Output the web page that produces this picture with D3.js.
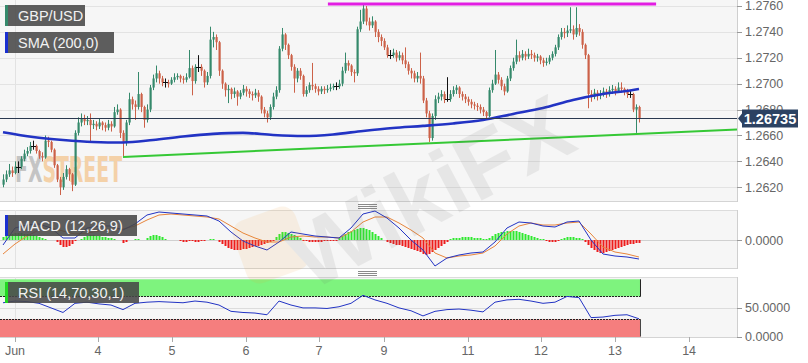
<!DOCTYPE html>
<html>
<head>
<meta charset="utf-8">
<script src="https://cdn.jsdelivr.net/npm/d3@7"></script>
<style>
body { margin: 0; background: #fff; }
svg { display: block; font-family: "Liberation Sans", Arial, sans-serif; }
</style>
</head>
<body>
<svg id="chart" width="808" height="363"></svg>
<script>
// GBP/USD hourly candles, 2 - 13 Jun. prices are pips above base
const base = 1.26
const firstOpen = 22
const closes = [26,30,33,31,36,36,42,46,48,52, 52,48,44,43,56,55,49,37,26,20,
  28,34,30,22,62,70,73,71,72,68, 69,67,70,68,66,69,67,78,80,62,
  55,70,88,84,82,92,82,72,80,97, 104,108,104,101,101,100,103,105,106,104,
  103,105,112,102,113,113,110,101,106,134, 136,132,110,100,95,96,92,94,90,93,
  96,94,92,91,93,90,80,77,74,82, 90,95,127,138,130,122,113,104,110,106,
  92,95,99,98,96,94,96,95,96,97, 98,98,100,110,116,114,109,108,142,148,
  158,148,145,148,140,136,133,128,122,122, 124,120,122,118,115,110,108,104,106,104,
  87,77,58,75,88,90,92,88,88,92, 95,97,92,90,88,86,84,83,82,80,
  78,75,95,100,107,103,98,94,104,112, 117,122,120,123,121,123,122,120,121,118,
  116,117,120,123,128,136,140,139,141,142, 138,143,140,130,122,92,90,93,91,92,
  94,92,95,96,94,97,96,94,92,92, 80,82,73.5]
const highs = [30,33,38,36,40,40,44,49,51,55, 56,53,49,47,60,59,56,50,38,28,
  31,37,35,31,64,74,77,76,75,77, 72,71,73,71,70,72,71,82,84,81,
  64,72,93,90,87,109,93,83,84,99, 107,114,110,106,104,103,105,108,108,107,
  106,108,126,114,115,122,115,111,109,144, 140,138,133,111,101,99,97,97,95,95,
  99,98,96,94,96,95,91,82,79,84, 93,98,129,143,139,131,123,115,112,112,
  107,98,101,116,100,98,98,98,99,100, 100,101,103,113,124,118,115,111,144,157,
  161,160,151,152,149,142,138,135,130,126, 127,126,125,124,128,117,112,110,109,124,
  106,89,79,77,91,93,95,94,105,95, 98,99,98,94,92,90,88,86,85,84,
  82,79,97,103,126,109,105,100,106,114, 120,134,125,126,125,127,126,124,123,122,
  120,120,122,125,130,138,143,143,145,159, 145,159,146,142,131,123,95,96,95,95,
  97,96,98,99,98,101,101,97,96,95, 93,84,83]
const lows = [20,24,28,28,30,31,34,40,44,46, 49,46,42,40,42,51,47,35,24,14,
  18,26,25,17,21,60,67,68,68,55, 65,64,65,64,63,64,63,66,76,58,
  43,52,68,80,72,80,78,66,70,78, 95,101,100,98,97,97,99,101,103,101,
  100,101,104,91,100,109,106,97,99,104, 128,126,106,96,90,85,88,89,83,88,
  91,90,89,87,89,86,77,74,70,72, 80,88,93,125,126,119,110,93,101,103,
  90,90,93,95,93,91,92,92,93,94, 95,95,96,98,108,110,106,101,106,140,
  146,145,141,143,136,132,129,126,120,119, 120,117,118,115,112,107,104,101,101,100,
  85,74,55,56,72,85,87,85,86,86, 90,92,89,87,85,83,81,80,79,77,
  75,73,74,93,99,100,95,91,93,102, 110,115,117,118,118,119,119,117,117,115,
  113,114,115,118,121,126,134,135,136,139, 134,136,137,127,119,81,86,88,87,88,
  90,89,90,92,91,93,93,91,89,89, 78,62,70]

// SMA(200) read every 10 candles
const smaIdx = [0,10,20,30,40,50,60,70,80,90,100,110,120,130,140,150,160,170,180,190,200,210,212]
const smaPips = [62.5,58.8,56.5,55,54.6,56.5,59.2,61.2,62,60.4,59.6,60.8,63.5,65.8,67.4,69.3,72,76.6,81.2,87.4,92,95.1,95.9]

// drawn lines
const trendIdx = [40, 244.67], trendPips = [43.4, 64.6]
const resistIdx = [108.3, 217.7], resistPips = [161.5, 161.5]
const lastPrice = 1.26735

// MACD (12,26,9), in units of 1e-5. lines every 4 candles, histogram per candle
const macdUnit = 1e-5
const lineIdx = d3.range(0, 213, 4)
const macdLine = [-20,48,60,64,48,8,8,48,56,56,40,64,100,112,108,104,100,96,76,32,-4,-24,-40,-8,32,24,16,12,8,48,
  104,116,88,48,0,-40,-104,-72,-60,-52,-48,-8,48,72,68,56,52,72,76,0,-56,-64,-68,-76]
const signalLine = [-56,-16,16,40,48,36,24,28,36,44,44,56,80,100,104,100,96,92,84,56,28,8,-8,-8,12,16,12,12,8,32,
  72,92,92,68,40,8,-52,-72,-64,-60,-52,-24,24,56,68,60,60,68,72,24,-28,-48,-56,-68]
const macdHist = [12,16,20,24,28,28,28,24,24,20,20,16,12,8,4, 0,0,0,
  -8,-20,-28,-28,-24,-16,-4, 0, 4,12,16,20,20,16,16,12,12,8,8,4, 0,0, -12,-8, 0,0,4,4,0,0,
  8,16,20,20,16,12,4, 0,0,0,0, -4,-8,-8,-4,-4,-8,-8,-4,-4, 0, 4,4,0,
  -8,-16,-24,-32,-36,-40,-40,-40,-36,-36,-32,-28,-24,-24,-20,-16,-12,-8,-4,
  12,24,32,32,28,24,20,12,8, -4,-4,-8,-8,-8,-8,-8,-4,-4,-4,-4,-4,
  8,16,24,32,36,40,44,48,48,44,40,32,24,16,8, 0,
  -8,-12,-16,-20,-20,-24,-28,-32,-36,-40,-44,-48,-56,-60,-56,-48,-40,-32,-24,-16,-8,
  4,8,8,8,12,12,12,12,8,8,8,4,4,
  8,16,24,28,32,32,36,36,36,36,32,28,24,20,16,12,8,4,4,
  -4,-8,-8,-8,-4, 4,8,12,12,12,8,8,4,
  -8,-20,-32,-40,-48,-52,-52,-48,-44,-40,-36,-32,-28,-24,-20,-16,-16,-12,-12]

// RSI (14,70,30,1) every 4 candles
const rsiLine = [59,62,61,58,50,42,58,60,57,55,47,58,60,61,60,59,62,60,55,44,42,41,38,62,55,50,50,49,52,58,
  72,64,58,50,45,36,44,47,48,46,43,60,64,65,62,58,60,70,68,33,34,37,38,31]

// x axis
const dayTicks = [4, 31.7, 56.3, 81, 105.3, 127, 155, 179.3, 204, 228.7]
const dayLabels = ['Jun','4','5','6','7','9','11','12','13','14']
const priceTicks = [1.2620,1.2640,1.2660,1.2680,1.2700,1.2720,1.2740,1.2760]

const green = '#35896b', red = '#cc6148', blue = '#2233c4'
const right = 737
const svg = d3.select('#chart')

const x = d3.scaleLinear().domain([-1, 244.67]).range([0, right])
const y = d3.scaleLinear().domain([1.26094, 1.27646]).range([201, 0])
const yMacd = d3.scaleLinear().domain([-112, 120]).range([268, 210])
const yRsi = d3.scaleLinear().domain([0, 100]).range([336.5, 279.3])
const px = p => y(base + p / 1e4)

// panels
const panels = [[0, 201], [210, 268], [277, 337]]
panels.forEach(([t, b], n) => {
  svg.append('clipPath').attr('id', 'clip' + n)
    .append('rect').attr('x', 0).attr('y', t).attr('width', right).attr('height', b - t)
  svg.append('rect').attr('x', 0).attr('y', t).attr('width', right).attr('height', b - t)
    .attr('fill', '#f6f6f6')
  svg.append('line').attr('x1', 0).attr('x2', right).attr('y1', b + 0.5).attr('y2', b + 0.5)
    .attr('stroke', '#d4d4d4')
  if (n) svg.append('line').attr('x1', 0).attr('x2', right).attr('y1', t + 0.5).attr('y2', t + 0.5)
    .attr('stroke', '#dcdcdc')
  svg.append('line').attr('x1', right + 0.5).attr('x2', right + 0.5).attr('y1', t).attr('y2', b + 1)
    .attr('stroke', '#cfcfcf')
  // month line
  svg.append('line').attr('x1', Math.round(x(dayTicks[0])) + 0.5).attr('x2', Math.round(x(dayTicks[0])) + 0.5)
    .attr('y1', t).attr('y2', b).attr('stroke', '#e2e2e2')
})

// grips between panels
;[204, 271].forEach(g => {
  for (let j = 0; j < 3; j++) {
    svg.append('line').attr('x1', 358).attr('x2', 377)
      .attr('y1', g + j * 2 + 0.5).attr('y2', g + j * 2 + 0.5).attr('stroke', '#8a8a8a')
  }
})

// price grid + axis
const main = svg.append('g').attr('clip-path', 'url(#clip0)')
main.selectAll('.grid').data(priceTicks).enter().append('line')
  .attr('x1', 0).attr('x2', right)
  .attr('y1', d => Math.round(y(d)) + 0.5).attr('y2', d => Math.round(y(d)) + 0.5)
  .attr('stroke', '#e3e3e3')
svg.selectAll('.ptick').data(priceTicks).enter().append('line')
  .attr('x1', right).attr('x2', right + 5)
  .attr('y1', d => Math.round(y(d)) + 0.5).attr('y2', d => Math.round(y(d)) + 0.5)
  .attr('stroke', '#999')
// 1.2680 ends up mostly under the price tag, as in the original
svg.selectAll('.plabel').data(priceTicks).enter().append('text')
  .attr('x', right + 8).attr('y', d => y(d) + 4.5)
  .attr('font-size', 12.5).attr('fill', '#666')
  .text(d => d3.format('.4f')(d))

// FXSTREET watermark
const wm = main.append('text').attr('x', 15).attr('y', 182)
  .attr('font-family', '"DejaVu Sans Condensed", "DejaVu Sans", sans-serif')
  .attr('font-weight', 'bold').attr('font-size', 36)
  .attr('textLength', 107).attr('lengthAdjust', 'spacingAndGlyphs')
wm.append('tspan').attr('fill', '#c4c4c4').text('FX')
wm.append('tspan').attr('fill', '#f4d1a8').text('STREET')

// candles
const candles = closes.map((c, i) => ({
  i: i,
  open: i ? closes[i - 1] : firstOpen,
  close: c,
  high: highs[i],
  low: lows[i]
}))
const cg = main.append('g')
cg.selectAll('.wick').data(candles).enter().append('line')
  .attr('x1', d => Math.round(x(d.i)) + 0.5).attr('x2', d => Math.round(x(d.i)) + 0.5)
  .attr('y1', d => px(d.high)).attr('y2', d => px(d.low))
  .attr('stroke', d => d.close > d.open ? green : d.close < d.open ? red : '#111')
  .attr('stroke-width', 1)
cg.selectAll('.body').data(candles.filter(d => d.close !== d.open)).enter().append('rect')
  .attr('x', d => Math.round(x(d.i)) - 0.5).attr('width', 2.2)
  .attr('y', d => px(Math.max(d.open, d.close)))
  .attr('height', d => Math.max(1, Math.abs(px(d.open) - px(d.close))))
  .attr('fill', d => d.close > d.open ? green : red)
cg.selectAll('.doji').data(candles.filter(d => d.close === d.open)).enter().append('line')
  .attr('x1', d => Math.round(x(d.i)) - 2).attr('x2', d => Math.round(x(d.i)) + 3)
  .attr('y1', d => Math.round(px(d.close)) + 0.5).attr('y2', d => Math.round(px(d.close)) + 0.5)
  .attr('stroke', '#111')

// SMA
main.append('path')
  .datum(smaIdx.map((k, j) => [k, smaPips[j]]))
  .attr('fill', 'none').attr('stroke', blue).attr('stroke-width', 2.6)
  .attr('d', d3.line().x(d => x(d[0])).y(d => px(d[1])).curve(d3.curveMonotoneX))

// support trend line
main.append('line')
  .attr('x1', x(trendIdx[0])).attr('y1', px(trendPips[0]))
  .attr('x2', x(trendIdx[1])).attr('y2', px(trendPips[1]))
  .attr('stroke', '#35c835').attr('stroke-width', 2)

// last price line
main.append('line').attr('x1', 0).attr('x2', right)
  .attr('y1', Math.round(y(lastPrice)) + 0.5).attr('y2', Math.round(y(lastPrice)) + 0.5)
  .attr('stroke', '#2b3950')

// resistance line
main.append('line')
  .attr('x1', x(resistIdx[0])).attr('y1', px(resistPips[0]))
  .attr('x2', x(resistIdx[1])).attr('y2', px(resistPips[1]))
  .attr('stroke', '#e21ee2').attr('stroke-width', 3)

// last price tag
const ty = Math.round(y(lastPrice)) + 0.5
svg.append('path')
  .attr('d', `M${right + 1},${ty} L${right + 5},${ty - 5} V${ty - 9} H798 V${ty + 9} H${right + 5} V${ty + 5} Z`)
  .attr('fill', '#2c4262')
svg.append('text').attr('x', 770).attr('y', ty + 5).attr('text-anchor', 'middle')
  .attr('font-size', 14.5).attr('font-weight', 'bold').attr('fill', '#fff')
  .text(d3.format('.5f')(lastPrice))

// MACD panel
const mg = svg.append('g').attr('clip-path', 'url(#clip1)')
mg.append('line').attr('x1', 0).attr('x2', right)
  .attr('y1', Math.round(yMacd(0)) + 0.5).attr('y2', Math.round(yMacd(0)) + 0.5)
  .attr('stroke', '#d0d0d0')
mg.selectAll('.hist').data(macdHist).enter().append('rect')
  .attr('x', (d, i) => Math.round(x(i)) - 0.5).attr('width', 2)
  .attr('y', d => d > 0 ? yMacd(d) : yMacd(0))
  .attr('height', d => Math.abs(yMacd(d) - yMacd(0)))
  .attr('fill', d => d > 0 ? '#2fe82f' : '#ee1c1c')
const mline = d3.line().x((d, j) => x(lineIdx[j])).y(d => yMacd(d))
mg.append('path').datum(signalLine).attr('fill', 'none')
  .attr('stroke', '#e8853c').attr('stroke-width', 1).attr('d', mline)
mg.append('path').datum(macdLine).attr('fill', 'none')
  .attr('stroke', blue).attr('stroke-width', 1).attr('d', mline)
svg.append('line').attr('x1', right).attr('x2', right + 5)
  .attr('y1', Math.round(yMacd(0)) + 0.5).attr('y2', Math.round(yMacd(0)) + 0.5).attr('stroke', '#999')
svg.append('text').attr('x', right + 8).attr('y', yMacd(0) + 4.5)
  .attr('font-size', 12.5).attr('fill', '#666').text(d3.format('.4f')(0 * macdUnit))

// RSI panel
const rg = svg.append('g').attr('clip-path', 'url(#clip2)')
const lastX = x(closes.length - 1) + 1.5
rg.append('line').attr('x1', 0).attr('x2', right)
  .attr('y1', Math.round(yRsi(50)) + 0.5).attr('y2', Math.round(yRsi(50)) + 0.5).attr('stroke', '#dcdcdc')
rg.append('rect').attr('x', 0).attr('width', lastX)
  .attr('y', yRsi(100)).attr('height', yRsi(70) - yRsi(100)).attr('fill', '#7ef37e')
rg.append('rect').attr('x', 0).attr('width', lastX)
  .attr('y', yRsi(30)).attr('height', yRsi(0) - yRsi(30) + 1).attr('fill', '#f57e7e')
;[70, 30].forEach(v => {
  rg.append('line').attr('x1', 0).attr('x2', lastX)
    .attr('y1', Math.round(yRsi(v)) + 0.5).attr('y2', Math.round(yRsi(v)) + 0.5)
    .attr('stroke', '#222').attr('stroke-dasharray', '2,1')
})
rg.append('line').attr('x1', lastX).attr('x2', lastX).attr('y1', yRsi(100)).attr('y2', yRsi(70))
  .attr('stroke', '#222')
rg.append('line').attr('x1', lastX).attr('x2', lastX).attr('y1', yRsi(30)).attr('y2', yRsi(0))
  .attr('stroke', '#444')
rg.append('path').datum(rsiLine).attr('fill', 'none').attr('stroke', blue).attr('stroke-width', 1)
  .attr('d', d3.line().x((d, j) => x(lineIdx[j])).y(d => yRsi(d)))
;[50, 0].forEach(v => {
  svg.append('line').attr('x1', right).attr('x2', right + 5)
    .attr('y1', Math.round(yRsi(v)) + 0.5).attr('y2', Math.round(yRsi(v)) + 0.5).attr('stroke', '#999')
  svg.append('text').attr('x', right + 8).attr('y', yRsi(v) + 4.5)
    .attr('font-size', 12.5).attr('fill', '#666').text(d3.format('.4f')(v))
})

// x axis
svg.selectAll('.xtick').data(dayTicks).enter().append('line')
  .attr('x1', d => Math.round(x(d)) + 0.5).attr('x2', d => Math.round(x(d)) + 0.5)
  .attr('y1', 337).attr('y2', 342).attr('stroke', '#aaa')
svg.selectAll('.xlabel').data(dayTicks).enter().append('text')
  .attr('x', d => x(d)).attr('y', 355).attr('text-anchor', 'middle')
  .attr('font-size', 12.5).attr('fill', '#666')
  .text((d, i) => dayLabels[i])

// legend boxes
const legends = [
  { text: 'GBP/USD', y: 5, w: 80, color: green },
  { text: 'SMA (200,0)', y: 32, w: 109, color: '#1a2fd0' },
  { text: 'MACD (12,26,9)', y: 215, w: 132, color: '#1a2fd0' },
  { text: 'RSI (14,70,30,1)', y: 282, w: 134, color: '#22d822' }
]
legends.forEach(l => {
  svg.append('rect').attr('x', 5).attr('y', l.y).attr('width', l.w).attr('height', 21)
    .attr('fill', '#484848').attr('opacity', 0.88)
  svg.append('rect').attr('x', 5).attr('y', l.y).attr('width', 3).attr('height', 21)
    .attr('fill', l.color)
  svg.append('text').attr('x', 18).attr('y', l.y + 15.5)
    .attr('font-size', 14.5).attr('fill', '#f2f2f2').text(l.text)
})

// WikiFX watermark
const wk = svg.append('g').attr('opacity', 0.1)
wk.append('rect').attr('x', 238).attr('y', 212).attr('width', 66).attr('height', 66).attr('rx', 14)
  .attr('fill', '#f0a030').attr('transform', 'rotate(-20 271 245)')
wk.append('text').attr('x', 310).attr('y', 292)
  .attr('font-size', 92).attr('font-weight', 'bold').attr('fill', '#666')
  .attr('transform', 'rotate(-28 310 292)')
  .text('WikiFX')
</script>
</body>
</html>
